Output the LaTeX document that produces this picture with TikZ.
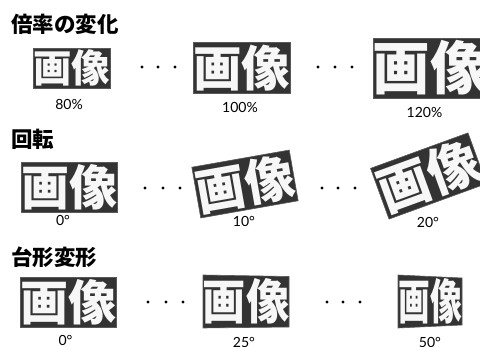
\documentclass[tikz,border=0pt]{standalone}
\usepackage{fontspec}
\newfontfamily\cjk{Noto Sans CJK JP}
\newfontfamily\labfont{Lato}
\tikzset{
  imgtext/.style={inner sep=0pt, text=gray!6, font=\cjk\bfseries\fontsize{48}{48}\selectfont, text height=43.2pt, text depth=6.8pt},
  imgbox/.style={imgtext, fill=black!80, minimum width=96pt, draw=black!65, line width=0.6pt},
  trap/.style={fill=black!80, draw=black!65, line width=0.6pt},
  lab/.style={font=\labfont\fontsize{14}{14}\selectfont, anchor=base, inner sep=0pt},
  title/.style={font=\cjk\bfseries\fontsize{21.5}{22}\selectfont, anchor=west, inner sep=0pt},
  dot/.style={circle, fill=black, inner sep=0pt, minimum size=3.4pt},
}
\begin{document}
\begin{tikzpicture}[x=1pt,y=-1pt]
\path[use as bounding box, fill=white] (0,0) rectangle (480,347);
\clip (0,0) rectangle (480,347);
% titles
\node[title] (t1) at (11,24) {倍率の変化};
\node[title] (t2) at (11,139) {回転};
\node[title] (t3) at (11,257) {台形変形};
% row 1: scaling
\begin{scope}[shift={(71.5,68)}, scale=0.8, transform shape]
  \node[imgbox] (a1) at (0,0) {画像};
\end{scope}
\begin{scope}[shift={(241.5,68)}, scale=1.01, transform shape]
  \node[imgbox] (a2) at (0,0) {画像};
\end{scope}
\begin{scope}[shift={(430.5,68)}, scale=1.2, transform shape]
  \node[imgbox] (a3) at (0,0) {画像};
\end{scope}
\node[lab] (la1) at (69,109.5) {80\%};
\node[lab] (la2) at (240,113) {100\%};
\node[lab] (la3) at (424.5,118) {120\%};
% row 2: rotation
\begin{scope}[shift={(69,187)}, transform shape]
  \node[imgbox] (b1) at (0,0) {画像};
\end{scope}
\begin{scope}[shift={(245,184)}, rotate=10, scale=1.03, transform shape]
  \node[imgbox] (b2) at (0,0) {画像};
\end{scope}
\begin{scope}[shift={(428.5,176)}, rotate=20, scale=1.08, transform shape]
  \node[imgbox] (b3) at (0,0) {画像};
\end{scope}
\node[lab] (lb1) at (63,226) {0°};
\node[lab] (lb2) at (244,227) {10°};
\node[lab] (lb3) at (428,227.5) {20°};
% row 3: keystone
\begin{scope}[shift={(68,302)}, transform shape]
  \node[imgbox] (c1) at (0,0) {画像};
\end{scope}
\begin{scope}[shift={(246,301.5)}]
  \path[trap] (-43,-26.5) -- (43,-25) -- (43,25.5) -- (-43,26.5) -- cycle;
  \begin{scope}[xscale=0.9, transform shape]
    \node[imgtext] (c2) at (0,0) {画像};
  \end{scope}
\end{scope}
\begin{scope}[shift={(430,301.5)}]
  \path[trap] (-32,-26.5) -- (32,-23.5) -- (32,23.5) -- (-32,26.5) -- cycle;
  \begin{scope}[xscale=0.66, transform shape]
    \node[imgtext] (c3) at (0,0) {画像};
  \end{scope}
\end{scope}
\node[lab] (lc1) at (65.5,345.5) {0°};
\node[lab] (lc2) at (244,347.5) {25°};
\node[lab] (lc3) at (430,347.5) {50°};
% dots
\foreach \x [count=\i] in {142,158,175,318,335,352}
  \node[dot] (da\i) at (\x,67) {};
\foreach \x [count=\i] in {145,163,180,322,338,355}
  \node[dot] (db\i) at (\x,188) {};
\foreach \x [count=\i] in {148,166,183,327,343,360}
  \node[dot] (dc\i) at (\x,302) {};
\end{tikzpicture}
\end{document}
